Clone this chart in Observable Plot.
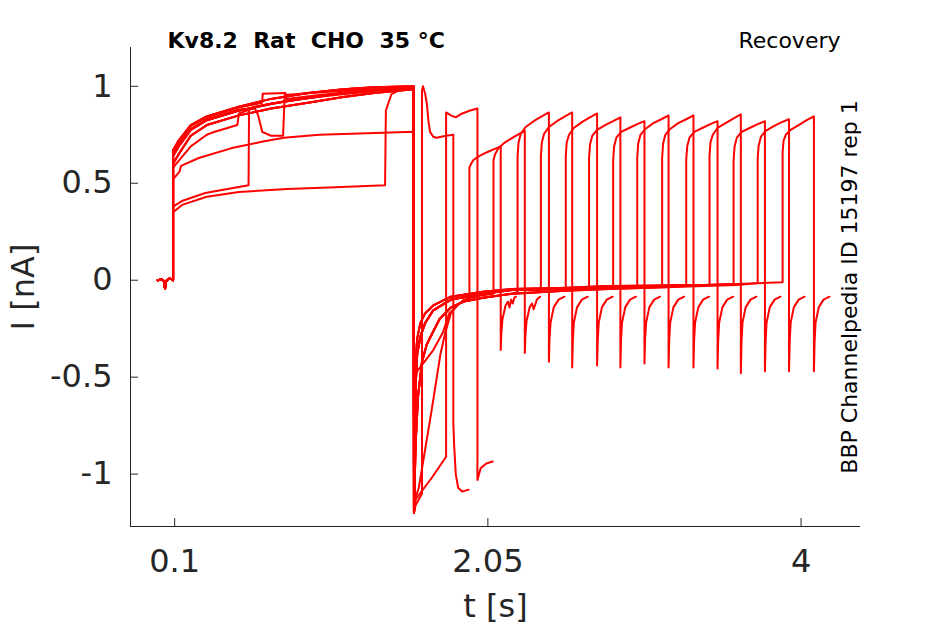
<!DOCTYPE html>
<html>
<head>
<meta charset="utf-8">
<script src="https://cdn.jsdelivr.net/npm/d3@7"></script>
<script src="https://cdn.jsdelivr.net/npm/@observablehq/plot@0.6"></script>
<style>
  html, body { margin: 0; padding: 0; background: #ffffff; }
  #chart { width: 945px; height: 624px; }
</style>
</head>
<body>
<div id="chart"></div>
<script>
// ---------------- data ----------------
const titleText = "Kv8.2\u00a0\u00a0Rat\u00a0\u00a0CHO\u00a0\u00a035 °C";
const protocolText = "Recovery";
const sideText = "BBP Channelpedia ID 15197 rep 1";
const xLabel = "t [s]";
const yLabel = "I [nA]";

const xTicks = [0.1, 2.05, 4];
const xTickLabels = ["0.1", "2.05", "4"];
const yTicks = [1, 0.5, 0, -0.5, -1];
const yTickLabels = ["1", "0.5", "0", "-0.5", "-1"];
const xDomain = [-0.175, 4.37];
const yDomain = [-1.27, 1.2];

// holding level before the conditioning step  [t (s), I (nA)]
const baseline = [[-0.005, 0.0], [0.02, 0.005], [0.035, -0.01], [0.04, -0.045], [0.045, -0.005], [0.07, 0.01], [0.09, 0.0]];

// conditioning pulse shapes (0.09 s – 1.588 s)
const preUpper = [[0.09, 0.67], [0.125, 0.72], [0.2, 0.80], [0.3, 0.845], [0.5, 0.895], [0.7, 0.935], [0.93, 0.965], [1.15, 0.985], [1.34, 0.995], [1.588, 1.0]];
const preMid   = [[0.09, 0.64], [0.125, 0.69], [0.2, 0.775], [0.3, 0.825], [0.5, 0.875], [0.7, 0.91], [0.93, 0.94], [1.15, 0.965], [1.34, 0.98], [1.588, 0.995]];
const preLower = [[0.09, 0.60], [0.125, 0.65], [0.2, 0.745], [0.3, 0.80], [0.5, 0.85], [0.7, 0.885], [0.93, 0.915], [1.15, 0.945], [1.34, 0.965], [1.588, 0.985]];
const preA = [[0.09, 0.38], [0.15, 0.41], [0.29, 0.45], [0.56, 0.49], [0.563, 0.885], [0.6, 0.895], [0.8, 0.925], [1.1, 0.96], [1.34, 0.98], [1.588, 0.995]];
const preB = [[0.09, 0.35], [0.15, 0.39], [0.3, 0.43], [0.5, 0.455], [0.8, 0.47], [1.1, 0.48], [1.41, 0.49], [1.415, 0.875], [1.45, 0.96], [1.5, 0.98], [1.588, 1.0]];
const preC = [[0.09, 0.52], [0.13, 0.56], [0.14, 0.59], [0.25, 0.63], [0.45, 0.68], [0.65, 0.715], [0.78, 0.735], [1.0, 0.75], [1.3, 0.758], [1.588, 0.765]];
const preD = [[0.09, 0.65], [0.125, 0.70], [0.2, 0.78], [0.3, 0.83], [0.5, 0.88], [0.6, 0.885], [0.62, 0.85], [0.645, 0.765], [0.7, 0.745], [0.775, 0.745], [0.785, 0.955], [0.95, 0.965], [1.2, 0.98], [1.588, 0.995]];
const preF = [[0.09, 0.58], [0.12, 0.61], [0.2, 0.69], [0.3, 0.75], [0.33, 0.76], [0.49, 0.80], [0.5, 0.86], [0.6, 0.89], [0.8, 0.925], [1.1, 0.955], [1.4, 0.98], [1.588, 0.99]];
const preG = [[0.09, 0.66], [0.125, 0.71], [0.2, 0.795], [0.3, 0.84], [0.5, 0.89], [0.645, 0.915], [0.648, 0.962], [0.79, 0.965], [0.795, 0.935], [1.0, 0.955], [1.3, 0.98], [1.588, 0.995]];

// tail currents after the conditioning step
const tailMain  = [[1.59, -1.2], [1.595, -0.85], [1.60, -0.55], [1.61, -0.38], [1.63, -0.29], [1.66, -0.22], [1.71, -0.155], [1.82, -0.10], [2.02, -0.07], [2.2, -0.05], [2.5, -0.045], [2.8, -0.035], [3.2, -0.03], [3.6, -0.02], [3.9, -0.01]];
const tailUpper = [[1.59, -1.2], [1.593, -0.7], [1.60, -0.42], [1.61, -0.30], [1.63, -0.22], [1.66, -0.17], [1.71, -0.13], [1.82, -0.085], [2.02, -0.06], [2.2, -0.045], [2.5, -0.04], [2.8, -0.03], [3.2, -0.025], [3.6, -0.015], [3.9, -0.005]];
const tailLower = [[1.59, -1.2], [1.60, -0.85], [1.615, -0.6], [1.64, -0.42], [1.67, -0.33], [1.70, -0.28], [1.75, -0.2], [1.82, -0.14], [1.9, -0.11], [2.02, -0.09], [2.2, -0.07], [2.5, -0.055], [2.8, -0.045], [3.2, -0.035], [3.6, -0.025], [3.9, -0.015]];
const tailS0 = [[1.59, -1.2], [1.60, -1.16], [1.64, -1.10]];
const tailS1 = [[1.59, -1.2], [1.60, -1.13], [1.70, -1.02], [1.79, -0.91]];
const tailSlowA = [[1.59, -1.2], [1.60, -1.12], [1.62, -1.07], [1.70, -0.67], [1.755, -0.38], [1.785, -0.27], [1.82, -0.17], [1.87, -0.12], [1.935, -0.10]];
const tailSlowB = [[1.59, -1.2], [1.595, -0.7], [1.60, -0.48], [1.71, -0.36], [1.77, -0.27], [1.81, -0.17], [1.9, -0.10], [2.0, -0.08], [2.085, -0.07]];

// onset of the test pulse of each sweep (s)
const testStart = [1.64, 1.79, 1.935, 2.085, 2.235, 2.38, 2.535, 2.68, 2.83, 2.98, 3.135, 3.285, 3.43, 3.58, 3.73, 3.885];
const sweepPre  = ["mid", "upper", "lower", "F", "mid", "A", "upper", "D", "lower", "B", "mid", "upper", "C", "lower", "G", "mid"];
const sweepTail = ["S0", "S1", "slowA", "slowB", "lower", "main", "upper", "lower", "main", "upper", "main", "lower", "upper", "main", "lower", "main"];

// test pulse + following tail of each sweep, [time after onset (s), I (nA)]
const test0  = [[0, -1.10], [0, 0.98], [0.006, 1.0], [0.02, 0.96], [0.03, 0.91], [0.04, 0.82], [0.05, 0.765], [0.07, 0.74], [0.09, 0.735], [0.15, 0.745], [0.195, 0.75], [0.195, -0.74], [0.2, -0.85], [0.21, -1.0], [0.225, -1.07], [0.25, -1.09], [0.29, -1.08]];
const test1  = [[0, -0.91], [0, 0.865], [0.03, 0.85], [0.06, 0.84], [0.1, 0.86], [0.15, 0.875], [0.195, 0.885], [0.195, -1.03], [0.215, -0.97], [0.25, -0.945], [0.29, -0.935]];
const test2  = [[0, -0.10], [0, 0.58], [0.01, 0.60], [0.025, 0.62], [0.06, 0.64], [0.11, 0.66], [0.15, 0.675], [0.195, 0.69], [0.195, -0.36], [0.199, -0.27], [0.206, -0.2], [0.225, -0.13], [0.24, -0.11], [0.25, -0.14], [0.26, -0.10], [0.27, -0.12], [0.28, -0.09], [0.29, -0.085]];
const test3  = [[0, -0.07], [0, 0.62], [0.01, 0.65], [0.03, 0.68], [0.07, 0.71], [0.13, 0.74], [0.195, 0.77], [0.195, -0.375], [0.199, -0.28], [0.206, -0.21], [0.225, -0.14], [0.24, -0.12], [0.25, -0.15], [0.27, -0.10], [0.29, -0.085]];
const test4  = [[0, -0.06], [0, 0.64], [0.006, 0.71], [0.02, 0.755], [0.05, 0.79], [0.1, 0.82], [0.15, 0.845], [0.195, 0.865], [0.195, -0.42], [0.199, -0.30], [0.205, -0.22], [0.225, -0.14], [0.255, -0.10], [0.292, -0.085]];
const test5  = [[0, -0.05], [0, 0.64], [0.006, 0.71], [0.02, 0.755], [0.05, 0.79], [0.1, 0.82], [0.15, 0.845], [0.195, 0.865], [0.195, -0.45], [0.199, -0.31], [0.205, -0.22], [0.225, -0.14], [0.255, -0.10], [0.292, -0.085]];
const test6  = [[0, -0.045], [0, 0.64], [0.006, 0.71], [0.02, 0.75], [0.05, 0.785], [0.1, 0.815], [0.15, 0.84], [0.195, 0.86], [0.195, -0.44], [0.199, -0.31], [0.205, -0.22], [0.225, -0.14], [0.255, -0.10], [0.292, -0.085]];
const test7  = [[0, -0.04], [0, 0.63], [0.006, 0.70], [0.02, 0.745], [0.05, 0.775], [0.1, 0.80], [0.15, 0.82], [0.195, 0.84], [0.195, -0.45], [0.199, -0.31], [0.205, -0.22], [0.225, -0.14], [0.255, -0.10], [0.292, -0.085]];
const test8  = [[0, -0.04], [0, 0.62], [0.006, 0.69], [0.02, 0.735], [0.05, 0.765], [0.1, 0.785], [0.15, 0.805], [0.195, 0.82], [0.195, -0.43], [0.199, -0.30], [0.205, -0.22], [0.225, -0.14], [0.255, -0.10], [0.292, -0.085]];
const test9  = [[0, -0.035], [0, 0.63], [0.006, 0.705], [0.02, 0.75], [0.05, 0.78], [0.1, 0.81], [0.15, 0.83], [0.195, 0.85], [0.195, -0.45], [0.199, -0.31], [0.205, -0.22], [0.225, -0.14], [0.255, -0.10], [0.292, -0.085]];
const test10 = [[0, -0.03], [0, 0.63], [0.006, 0.705], [0.02, 0.75], [0.05, 0.78], [0.1, 0.81], [0.15, 0.83], [0.195, 0.85], [0.195, -0.45], [0.199, -0.31], [0.205, -0.22], [0.225, -0.14], [0.255, -0.10], [0.292, -0.085]];
const test11 = [[0, -0.03], [0, 0.62], [0.006, 0.69], [0.02, 0.735], [0.05, 0.765], [0.1, 0.785], [0.15, 0.805], [0.195, 0.82], [0.195, -0.455], [0.199, -0.31], [0.205, -0.22], [0.225, -0.14], [0.255, -0.10], [0.292, -0.085]];
const test12 = [[0, -0.025], [0, 0.64], [0.006, 0.71], [0.02, 0.75], [0.05, 0.785], [0.1, 0.81], [0.15, 0.835], [0.195, 0.855], [0.195, -0.48], [0.199, -0.32], [0.205, -0.22], [0.225, -0.14], [0.255, -0.10], [0.292, -0.085]];
const test13 = [[0, -0.02], [0, 0.62], [0.006, 0.69], [0.02, 0.735], [0.05, 0.765], [0.1, 0.785], [0.15, 0.805], [0.195, 0.82], [0.195, -0.47], [0.199, -0.32], [0.205, -0.22], [0.225, -0.14], [0.255, -0.10], [0.292, -0.085]];
const test14 = [[0, -0.015], [0, 0.63], [0.006, 0.695], [0.02, 0.74], [0.05, 0.77], [0.1, 0.795], [0.15, 0.815], [0.195, 0.83], [0.195, -0.47], [0.199, -0.32], [0.205, -0.22], [0.225, -0.14], [0.255, -0.10], [0.292, -0.085]];
const test15 = [[0, -0.01], [0, 0.66], [0.006, 0.72], [0.02, 0.75], [0.05, 0.775], [0.1, 0.80], [0.15, 0.825], [0.195, 0.845], [0.195, -0.47], [0.199, -0.32], [0.205, -0.22], [0.225, -0.14], [0.255, -0.10], [0.292, -0.085]];

// ---------------- table built from the arrays above ----------------
const preShapes = {upper: preUpper, mid: preMid, lower: preLower, A: preA, B: preB, C: preC, D: preD, F: preF, G: preG};
const tailShapes = {main: tailMain, upper: tailUpper, lower: tailLower, S0: tailS0, S1: tailS1, slowA: tailSlowA, slowB: tailSlowB};
const testSegments = [test0, test1, test2, test3, test4, test5, test6, test7, test8, test9, test10, test11, test12, test13, test14, test15];

const rows = [];
testStart.forEach((t0, k) => {
  const pts = [
    ...baseline,
    ...preShapes[sweepPre[k]],
    ...tailShapes[sweepTail[k]].filter(([t]) => t <= t0),
    ...testSegments[k].map(([dt, I]) => [t0 + dt, I])
  ];
  pts.forEach(([t, I]) => rows.push({sweep: k, t, I}));
});

// ---------------- chart ----------------
const W = 945, H = 624;
const mL = 130, mR = 85, mT = 47, mB = 98;
const frameH = H - mT - mB;
const frameW = W - mL - mR;
const axisColor = "#262626";

const chart = Plot.plot({
  width: W,
  height: H,
  marginLeft: mL,
  marginRight: mR,
  marginTop: mT,
  marginBottom: mB,
  x: {domain: xDomain},
  y: {domain: yDomain},
  style: {fontFamily: "DejaVu Sans", background: "#ffffff", color: axisColor},
  marks: [
    Plot.line(rows, {x: "t", y: "I", z: "sweep", stroke: "#ff0000", strokeWidth: 2, strokeLinejoin: "round"}),
    Plot.ruleX([xDomain[0]], {stroke: axisColor, strokeWidth: 1}),
    Plot.ruleY([yDomain[0]], {stroke: axisColor, strokeWidth: 1}),
    Plot.tickX(xTicks, {stroke: axisColor, insetTop: frameH - 8}),
    Plot.tickY(yTicks, {stroke: axisColor, insetRight: frameW - 8}),
    Plot.axisX(xTicks, {tickSize: 0, tickPadding: 23, fontSize: 32, fill: axisColor, label: null,
      tickFormat: (d, i) => xTickLabels[i]}),
    Plot.axisY(yTicks, {tickSize: 0, tickPadding: 18, fontSize: 32, fill: axisColor, label: null,
      tickFormat: (d, i) => yTickLabels[i]}),
    Plot.text([xLabel], {text: d => d, frameAnchor: "bottom", dy: 80, fontSize: 32, fill: axisColor, textAnchor: "middle", lineAnchor: "middle"}),
    Plot.text([yLabel], {text: d => d, frameAnchor: "left", dx: -107, rotate: -90, fontSize: 32, fill: axisColor, textAnchor: "middle", lineAnchor: "middle"}),
    Plot.text([titleText], {text: d => d, frameAnchor: "top-left", dx: 37, dy: -7, textAnchor: "start", lineAnchor: "middle", fontSize: 22, fontWeight: "bold", fill: "#000000"}),
    Plot.text([protocolText], {text: d => d, frameAnchor: "top-right", dx: -20, dy: -7, textAnchor: "end", lineAnchor: "middle", fontSize: 22, fill: "#000000"}),
    Plot.text([sideText], {text: d => d, frameAnchor: "right", dx: -11, rotate: -90, textAnchor: "middle", lineAnchor: "middle", fontSize: 22, fill: "#000000"})
  ]
});
document.getElementById("chart").appendChild(chart);
</script>
</body>
</html>
